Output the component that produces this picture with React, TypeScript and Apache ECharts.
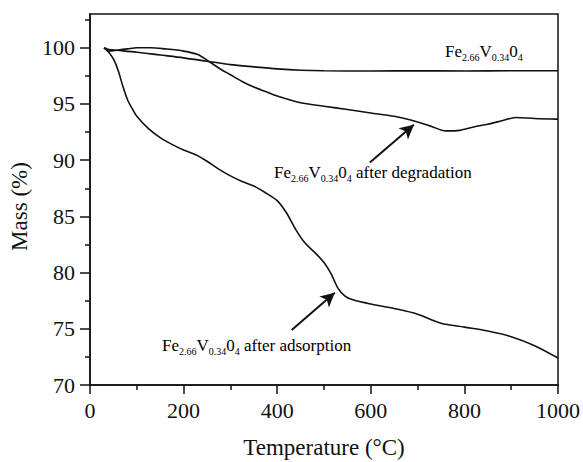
import React, { useEffect, useRef } from "react";
import * as echarts from "echarts";

const pureData: [number, number][] = [
  [30, 100], [40, 99.85], [50, 99.8], [100, 99.6], [150, 99.35], [200, 99.1], [250, 98.8],
  [300, 98.5], [350, 98.3], [400, 98.12], [450, 98.0], [500, 97.95], [600, 97.93],
  [700, 97.95], [800, 97.93], [900, 97.95], [1000, 97.95],
];

const degradationData: [number, number][] = [
  [30, 100], [40, 99.7], [60, 99.8], [80, 99.9], [100, 100.0], [130, 100.0], [160, 99.9],
  [200, 99.7], [230, 99.4], [250, 98.9], [275, 98.2], [300, 97.6], [325, 97.0], [350, 96.5],
  [375, 96.1], [400, 95.7], [450, 95.1], [500, 94.8], [550, 94.5], [600, 94.2], [650, 93.9],
  [700, 93.4], [730, 93.0], [760, 92.6], [790, 92.65], [820, 92.95], [850, 93.2], [880, 93.5],
  [910, 93.8], [950, 93.7], [1000, 93.65],
];

const adsorptionData: [number, number][] = [
  [30, 100], [40, 99.6], [50, 99.0], [60, 98.0], [70, 96.6], [80, 95.4], [90, 94.6],
  [100, 93.9], [125, 92.8], [150, 92.0], [175, 91.4], [200, 90.9], [225, 90.5], [250, 89.9],
  [275, 89.2], [300, 88.6], [325, 88.1], [350, 87.7], [375, 87.1], [400, 86.4], [420, 85.3],
  [440, 83.8], [460, 82.6], [480, 81.8], [500, 80.9], [515, 79.9], [530, 78.6], [545, 77.9],
  [560, 77.6], [600, 77.2], [650, 76.8], [700, 76.3], [750, 75.5], [800, 75.15], [850, 74.8],
  [900, 74.3], [950, 73.5], [1000, 72.4],
];

const yMajorTicks = [70, 75, 80, 85, 90, 95, 100];
const yMinorTicks = [72.5, 77.5, 82.5, 87.5, 92.5, 97.5, 102.5];

// arrows: [tail, head] in data coordinates (°C, %)
const degradationArrow: [number, number][] = [[598, 89.8], [692, 93.15]];
const adsorptionArrow: [number, number][] = [[431, 74.9], [523, 78.2]];

const FONT = "Liberation Serif";

const formulaRich = {
  m: { fontSize: 17, fontFamily: FONT, color: "#111", lineHeight: 22, verticalAlign: "middle" },
  s: { fontSize: 10, fontFamily: FONT, color: "#111", lineHeight: 10, verticalAlign: "bottom" },
};
const formula = "{m|Fe}{s|2.66}{m|V}{s|0.34}{m|0}{s|4}";

export default function App() {
  const ref = useRef<HTMLDivElement>(null);
  useEffect(() => {
    if (!ref.current) return;
    const chart = echarts.init(ref.current, undefined, { renderer: "svg" });
    const lineStyle = { color: "#111", width: 1.6 };
    const arrowLine = (pts: [number, number][]) => ({
      silent: true,
      symbol: ["none", "arrow"],
      symbolSize: [11, 14],
      label: { show: false },
      lineStyle: { color: "#111", width: 2, type: "solid" },
      data: [[{ coord: pts[0] }, { coord: pts[1] }]],
    });
    chart.setOption({
      animation: false,
      backgroundColor: "#fff",
      textStyle: { fontFamily: FONT },
      grid: {
        left: 90, right: 25, top: 14, bottom: 77,
        outerBoundsMode: "none", containLabel: false,
        show: true, borderColor: "#111", borderWidth: 1.5, backgroundColor: "transparent",
      },
      xAxis: {
        type: "value", min: 0, max: 1000, interval: 200,
        name: "Temperature (°C)", nameLocation: "middle", nameGap: 51,
        nameTextStyle: { fontFamily: FONT, fontSize: 23, color: "#111" },
        axisLine: { show: true, lineStyle: { color: "#111", width: 1.5 } },
        axisTick: { show: true, length: 9, lineStyle: { color: "#111", width: 1.5 } },
        minorTick: { show: true, splitNumber: 2, length: 5, lineStyle: { color: "#111", width: 1.5 } },
        axisLabel: { fontFamily: FONT, fontSize: 22, color: "#111", margin: 14, formatter: (v: number) => String(v) },
        splitLine: { show: false },
      },
      yAxis: [
        {
          type: "value", min: 70, max: 103, interval: 5,
          name: "Mass (%)", nameLocation: "middle", nameGap: 58,
          nameTextStyle: { fontFamily: FONT, fontSize: 23, color: "#111", padding: [0, 14, 0, 0] },
          axisLine: { show: true, lineStyle: { color: "#111", width: 1.5 } },
          axisTick: { show: true, length: 10, customValues: yMajorTicks, lineStyle: { color: "#111", width: 1.5 } },
          axisLabel: { fontFamily: FONT, fontSize: 22, color: "#111", margin: 15, customValues: yMajorTicks, formatter: (v: number) => String(v) },
          splitLine: { show: false },
        },
        {
          type: "value", min: 70, max: 103, position: "left",
          axisLine: { show: false },
          axisTick: { show: true, length: 5, customValues: yMinorTicks, lineStyle: { color: "#111", width: 1.5 } },
          axisLabel: { show: false },
          splitLine: { show: false },
        },
      ],
      series: [
        {
          type: "line", data: pureData, showSymbol: false, smooth: 0.3,
          lineStyle, itemStyle: { color: "#111" },
        },
        {
          type: "line", data: degradationData, showSymbol: false, smooth: 0.3,
          lineStyle, itemStyle: { color: "#111" },
          markLine: arrowLine(degradationArrow),
        },
        {
          type: "line", data: adsorptionData, showSymbol: false, smooth: 0.3,
          lineStyle, itemStyle: { color: "#111" },
          markLine: arrowLine(adsorptionArrow),
        },
      ],
      graphic: [
        {
          type: "text", x: 445, y: 51,
          style: { text: formula, rich: formulaRich, verticalAlign: "middle", align: "left" },
        },
        {
          type: "text", x: 274, y: 172,
          style: { text: formula + "{m| after degradation}", rich: formulaRich, verticalAlign: "middle", align: "left" },
        },
        {
          type: "text", x: 162, y: 345,
          style: { text: formula + "{m| after adsorption}", rich: formulaRich, verticalAlign: "middle", align: "left" },
        },
      ],
    });
    return () => chart.dispose();
  }, []);
  return <div ref={ref} style={{ width: 583, height: 462, position: "absolute", left: 0, top: 0 }} />;
}
